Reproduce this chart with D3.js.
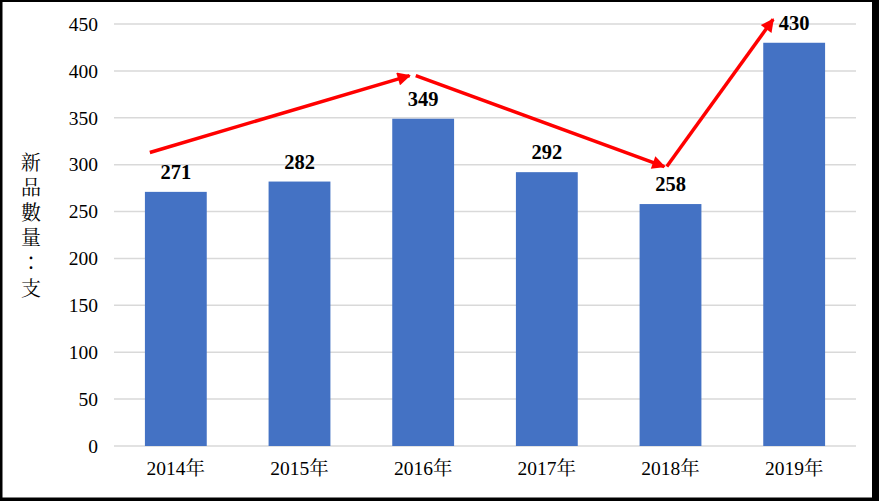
<!DOCTYPE html>
<html><head><meta charset="utf-8">
<script src="https://cdn.jsdelivr.net/npm/d3@7"></script>
<style>body{margin:0;background:#fff}svg{display:block}
svg text{font-family:'Liberation Serif','Noto Serif CJK TC','Times New Roman',serif;}
</style>
</head><body>
<svg id="c" width="879" height="501"></svg>
<script>
const categories = ["2014年","2015年","2016年","2017年","2018年","2019年"];
const values = [271, 282, 349, 292, 258, 430];
const yTicks = [0,50,100,150,200,250,300,350,400,450];
const yTitle = "新品數量：支";
// trend arrows: [fractional category position, value]
const arrows = [
  {from:[0.29,313], to:[2.39,395]},
  {from:[2.44,395], to:[4.45,298]},
  {from:[4.47,298], to:[5.33,455]}
];

const svg = d3.select("#c");
const W = 879, H = 501;
const m = {left:114, right:23, top:24, bottom:55};
const serif = "'Liberation Serif','Noto Serif CJK TC','Times New Roman',serif";

svg.append("rect").attr("width",W).attr("height",H).attr("fill","#000");
svg.append("rect").attr("x",2.5).attr("y",2).attr("width",869.5).attr("height",495.5).attr("fill","#fff");

const x = d3.scaleBand().domain(categories).range([m.left, W-m.right]).paddingInner(0.5).paddingOuter(0.25);
const y = d3.scaleLinear().domain([0,450]).range([H-m.bottom, m.top]);

// gridlines
svg.append("g").selectAll("line").data(yTicks).join("line")
  .attr("x1", m.left).attr("x2", W-m.right)
  .attr("y1", d=>y(d)).attr("y2", d=>y(d))
  .attr("stroke","#d9d9d9").attr("stroke-width",1.5);

// y axis labels
const yAxis = d3.axisLeft(y).tickValues(yTicks).tickSize(0).tickPadding(0);
const gy = svg.append("g").attr("transform",`translate(${m.left-16},0)`).call(yAxis)
  .attr("font-family",null).attr("font-size",null);
gy.select(".domain").remove();
gy.selectAll("text").style("font-family",serif).style("font-size","19.5px").attr("fill","#000");

// x axis labels
const xAxis = d3.axisBottom(x).tickSize(0).tickPadding(0);
const gx = svg.append("g").attr("transform",`translate(0,${y(0)+15})`).call(xAxis)
  .attr("font-family",null).attr("font-size",null);
gx.select(".domain").remove();
gx.selectAll("text").style("font-family",serif).style("font-size","19.5px").attr("fill","#000");

// bars
svg.append("g").selectAll("rect").data(values).join("rect")
  .attr("x",(d,i)=>x(categories[i])).attr("width",x.bandwidth())
  .attr("y",d=>y(d)).attr("height",d=>y(0)-y(d))
  .attr("fill","#4472c4");

// value labels
svg.append("g").selectAll("text").data(values).join("text")
  .attr("x",(d,i)=>x(categories[i])+x.bandwidth()/2)
  .attr("y",d=>y(d)-13)
  .attr("text-anchor","middle")
  .style("font-family",serif).style("font-weight","bold").style("font-size","20.5px")
  .attr("fill","#000").text(d=>d);

// y title (vertical)
svg.append("text")
  .attr("x",31).attr("y",152)
  .style("writing-mode","vertical-rl")
  .style("letter-spacing","5.2px")
  .style("font-family","'Noto Serif CJK TC','Noto Sans CJK TC',serif").style("font-size","20px")
  .attr("fill","#000").text(yTitle);

// arrows
svg.append("defs").append("marker").attr("id","ah")
  .attr("viewBox","0 0 10 10").attr("refX",9).attr("refY",5)
  .attr("markerWidth",4.2).attr("markerHeight",3.8).attr("orient","auto")
  .attr("markerUnits","strokeWidth")
  .append("path").attr("d","M0,0 L10,5 L0,10 Z").attr("fill","#ff0000");
const px = f => x.range()[0] + f*x.step();
svg.append("g").selectAll("line").data(arrows).join("line")
  .attr("x1",d=>px(d.from[0])).attr("y1",d=>y(d.from[1]))
  .attr("x2",d=>px(d.to[0])).attr("y2",d=>y(d.to[1]))
  .attr("stroke","#ff0000").attr("stroke-width",3.5)
  .attr("marker-end","url(#ah)");
</script>
</body></html>
